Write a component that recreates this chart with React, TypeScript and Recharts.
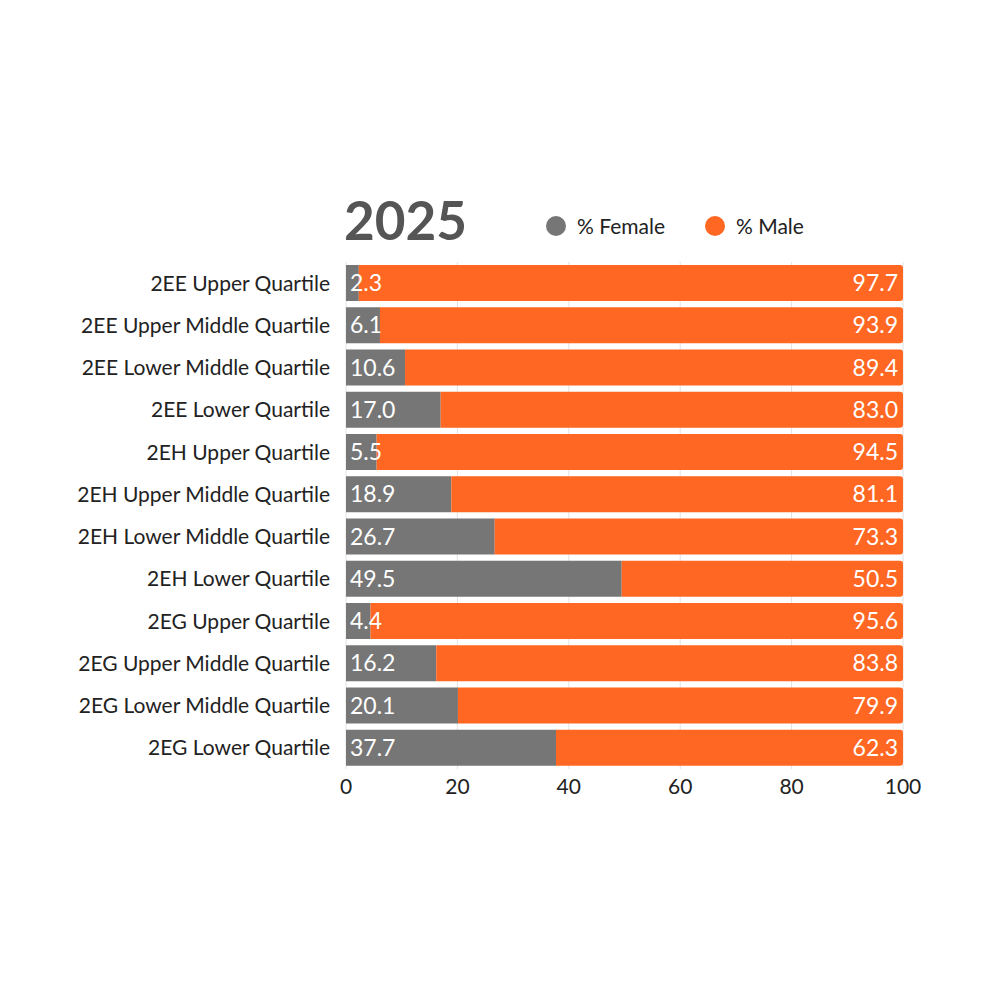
import React from "react";
import { BarChart, Bar, XAxis, YAxis, CartesianGrid, LabelList } from "recharts";

const categories = [
  "2EE Upper Quartile",
  "2EE Upper Middle Quartile",
  "2EE Lower Middle Quartile",
  "2EE Lower Quartile",
  "2EH Upper Quartile",
  "2EH Upper Middle Quartile",
  "2EH Lower Middle Quartile",
  "2EH Lower Quartile",
  "2EG Upper Quartile",
  "2EG Upper Middle Quartile",
  "2EG Lower Middle Quartile",
  "2EG Lower Quartile",
];
const female = [2.3, 6.1, 10.6, 17.0, 5.5, 18.9, 26.7, 49.5, 4.4, 16.2, 20.1, 37.7];
const male = [97.7, 93.9, 89.4, 83.0, 94.5, 81.1, 73.3, 50.5, 95.6, 83.8, 79.9, 62.3];
const xTicks = [0, 20, 40, 60, 80, 100];

const data = categories.map((c, i) => ({ name: c, female: female[i], male: male[i] }));

const FONT = "Lato, 'Noto Sans', sans-serif";
const GRAY = "#767676";
const ORANGE = "#FF6722";

const fmt = (v: any) => Number(v).toFixed(1);

export default function App() {
  return (
    <div style={{ position: "absolute", left: 0, top: 0, width: 1000, height: 1000, background: "#fff", fontFamily: FONT }}>
      <div style={{ position: "absolute", left: 344, top: 187, fontSize: 53, fontWeight: 700, color: "#555", lineHeight: "66px" }}>2025</div>
      <div style={{ position: "absolute", left: 546, top: 216, width: 20, height: 20, borderRadius: 10, background: GRAY }} />
      <div style={{ position: "absolute", left: 577, top: 212, fontSize: 21, color: "#222", lineHeight: "28px" }}>% Female</div>
      <div style={{ position: "absolute", left: 705, top: 216, width: 20, height: 20, borderRadius: 10, background: ORANGE }} />
      <div style={{ position: "absolute", left: 736, top: 212, fontSize: 21, color: "#222", lineHeight: "28px" }}>% Male</div>
      <div style={{ position: "absolute", left: 0, top: 0 }}>
        <BarChart
          width={1000}
          height={1000}
          data={data}
          layout="vertical"
          margin={{ top: 262, right: 97, bottom: 201, left: 0 }}
          barCategoryGap={3}
        >
          <CartesianGrid horizontal={false} stroke="#e2e2e2" />
          <XAxis
            type="number"
            domain={[0, 100]}
            ticks={xTicks}
            axisLine={false}
            tickLine={false}
            height={30}
            tick={{ fontSize: 21, fill: "#222", fontFamily: FONT }}
            tickMargin={4}
          />
          <YAxis
            type="category"
            dataKey="name"
            width={346}
            axisLine={false}
            tickLine={false}
            tickMargin={10}
            tick={{ fontSize: 21, fill: "#222", fontFamily: FONT }}
          />
          <Bar dataKey="female" stackId="a" fill={GRAY} isAnimationActive={false}>
            <LabelList dataKey="female" position="insideLeft" offset={4} formatter={fmt} fill="#fff" fontSize={23} fontFamily={FONT} />
          </Bar>
          <Bar dataKey="male" stackId="a" fill={ORANGE} radius={[0, 3, 3, 0]} isAnimationActive={false}>
            <LabelList dataKey="male" position="insideRight" offset={5} formatter={fmt} fill="#fff" fontSize={23} fontFamily={FONT} />
          </Bar>
        </BarChart>
      </div>
    </div>
  );
}
